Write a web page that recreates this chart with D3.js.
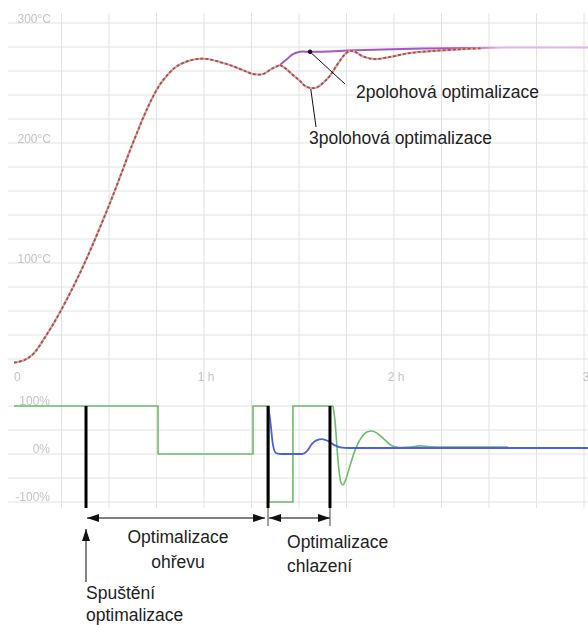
<!DOCTYPE html>
<html>
<head>
<meta charset="utf-8">
<script src="https://cdnjs.cloudflare.com/ajax/libs/d3/7.8.5/d3.min.js"></script>
<style>
  body { margin: 0; background: #fff; }
  .tick-label { font-family: "Liberation Sans", Arial, sans-serif; font-size: 12px; fill: #c4c4c4; }
  .note { font-family: "Liberation Sans", Arial, sans-serif; font-size: 17.5px; fill: #222; }
</style>
</head>
<body>
<div id="chart"></div>
<script>
// Time axis (hours)
var timeTicks = [0, 1, 2, 3];
var timeTickLabels = ["0", "1 h", "2 h", "3"];

// Temperature labels (°C)
var tempTicks = [100, 200, 300];
var tempTickLabels = ["100°C", "200°C", "300°C"];

// Output labels (%)
var outTicks = [100, 0, -100];
var outTickLabels = ["100%", "0%", "-100%"];

// Heating part shared by both runs
var heatTime = [0, 0.053, 0.1, 0.163, 0.242, 0.363, 0.505, 0.626, 0.705, 0.765, 0.815, 0.858, 0.911, 0.963, 1.016, 1.084, 1.153, 1.216, 1.258, 1.311, 1.358, 1.4];
var heatTemp = [17, 19, 24, 38, 59, 97, 150, 200, 230, 248, 258, 264, 268, 270, 270, 267.5, 264, 260, 257.5, 257.5, 262, 265];

// 2-position optimisation
var twoPosTime = [1.4, 1.437, 1.468, 1.505, 1.558, 1.663, 1.753, 1.942, 2.295, 2.6, 3.03];
var twoPosTemp = [265, 270, 274, 276, 276, 276.3, 277, 278, 279, 279.5, 279.5];

// 3-position optimisation
var threePosTime = [1.4, 1.426, 1.468, 1.505, 1.532, 1.558, 1.589, 1.626, 1.663, 1.7, 1.742, 1.768, 1.795, 1.832, 1.874, 1.911, 1.979, 2.084, 2.205, 2.363, 2.468];
var threePosTemp = [265, 262.5, 256.7, 251.7, 247.5, 246, 246, 250, 256, 265, 274, 276.7, 276, 272.5, 270.4, 270, 271.7, 275, 276.7, 278.3, 279];

// Heating output (green) - switching part then settling
var heatOutStepTime = [0, 0.758, 1.258, 1.342, 1.468, 1.679];
var heatOutStep = [100, 0, 100, -100, 100, 100];
var heatOutTailTime = [1.679, 1.689, 1.705, 1.721, 1.732, 1.747, 1.768, 1.795, 1.826, 1.858, 1.884, 1.916, 1.953, 1.989, 2.032, 2.084, 2.137, 2.189, 2.268, 2.4, 2.6];
var heatOutTail = [100, 71, -12, -60, -64, -52, -25, 8, 33, 46, 48, 42, 29, 17, 13.5, 14.5, 17, 15, 14.5, 14.5, 14.5];

// Cooling / second output (blue)
var coolOutTime = [1.337, 1.347, 1.363, 1.379, 1.411, 1.516, 1.542, 1.568, 1.595, 1.621, 1.653, 1.684, 1.716, 1.768, 2.2, 3.03];
var coolOut = [100, 75, 19, 2, 0, 0, 6, 21, 29, 31, 27, 19, 14, 12.5, 12.5, 12.5];

// Phase markers (hours): start, end of heating optimisation, end of cooling optimisation
var markerTimes = [0.379, 1.337, 1.663];

var svgWidth = 588, svgHeight = 625;

var svg = d3.select("#chart").append("svg")
    .attr("width", svgWidth)
    .attr("height", svgHeight);

var defs = svg.append("defs");
defs.append("filter").attr("id", "soft")
    .append("feGaussianBlur").attr("stdDeviation", 0.45);

// Scales
var xScale = d3.scaleLinear().domain([0, 3]).range([14, 584]);
var yTemp = d3.scaleLinear().domain([0, 300]).range([383, 23]);
var yOut = d3.scaleLinear().domain([-100, 100]).range([502, 406]);

// Grid
var grid = svg.append("g").attr("stroke", "#e2e2e2").attr("stroke-width", 1);
d3.range(0.25, 3.01, 0.25).forEach(function(t) {
    grid.append("line")
        .attr("x1", xScale(t)).attr("x2", xScale(t))
        .attr("y1", 13).attr("y2", 508);
});
d3.range(20, 301, 20).forEach(function(v) {
    grid.append("line")
        .attr("x1", 8).attr("x2", svgWidth)
        .attr("y1", yTemp(v)).attr("y2", yTemp(v));
});
d3.range(-100, 101, 50).forEach(function(v) {
    grid.append("line")
        .attr("x1", 8).attr("x2", svgWidth)
        .attr("y1", yOut(v)).attr("y2", yOut(v));
});

// Tick labels
var labels = svg.append("g").attr("filter", "url(#soft)");
tempTicks.forEach(function(v, i) {
    labels.append("text").attr("class", "tick-label")
        .attr("x", 51).attr("y", yTemp(v))
        .attr("text-anchor", "end")
        .text(tempTickLabels[i]);
});
outTicks.forEach(function(v, i) {
    labels.append("text").attr("class", "tick-label")
        .attr("x", 50).attr("y", yOut(v) - 1)
        .attr("text-anchor", "end")
        .text(outTickLabels[i]);
});
timeTicks.forEach(function(t, i) {
    labels.append("text").attr("class", "tick-label")
        .attr("x", i === 0 ? xScale(t) : xScale(t) + 2)
        .attr("y", 381)
        .attr("text-anchor", i === 0 ? "start" : "middle")
        .text(timeTickLabels[i]);
});

// Line generators
function zip(ts, vs) { return ts.map(function(t, i) { return [t, vs[i]]; }); }

var tempLine = d3.line()
    .x(d => xScale(d[0])).y(d => yTemp(d[1]))
    .curve(d3.curveCatmullRom.alpha(0.5));
var outLine = d3.line()
    .x(d => xScale(d[0])).y(d => yOut(d[1]))
    .curve(d3.curveMonotoneX);
var outStepLine = d3.line()
    .x(d => xScale(d[0])).y(d => yOut(d[1]))
    .curve(d3.curveStepAfter);

// Purple fades to pale pink once the 3-position curve has settled
var grad = defs.append("linearGradient").attr("id", "twoPosGrad")
    .attr("gradientUnits", "userSpaceOnUse")
    .attr("x1", xScale(2.4)).attr("x2", xScale(2.55))
    .attr("y1", 0).attr("y2", 0);
grad.append("stop").attr("offset", 0).attr("stop-color", "#a458c0");
grad.append("stop").attr("offset", 1).attr("stop-color", "#ebb2ea");

svg.append("path")
    .attr("d", tempLine(zip(twoPosTime, twoPosTemp)))
    .attr("fill", "none")
    .attr("stroke", "url(#twoPosGrad)")
    .attr("stroke-width", 2);

// Brownish red curves: pale base with darker dashes
[zip(heatTime, heatTemp), zip(threePosTime, threePosTemp)].forEach(function(pts) {
    svg.append("path")
        .attr("d", tempLine(pts))
        .attr("fill", "none")
        .attr("stroke", "#dba7a4")
        .attr("stroke-width", 2.2);
    svg.append("path")
        .attr("d", tempLine(pts))
        .attr("fill", "none")
        .attr("stroke", "#a9514d")
        .attr("stroke-width", 1.8)
        .attr("stroke-dasharray", "3,2");
});

// Output curves
svg.append("path")
    .attr("d", outStepLine(zip(heatOutStepTime, heatOutStep)))
    .attr("fill", "none")
    .attr("stroke", "#6cbd68")
    .attr("stroke-width", 1.6);
svg.append("path")
    .attr("d", outLine(zip(heatOutTailTime, heatOutTail)))
    .attr("fill", "none")
    .attr("stroke", "#6cbd68")
    .attr("stroke-width", 1.6);
svg.append("path")
    .attr("d", outLine(zip(coolOutTime, coolOut)))
    .attr("fill", "none")
    .attr("stroke", "#4b5ee6")
    .attr("stroke-width", 1.8);

// Phase markers
var mx = markerTimes.map(xScale);
svg.selectAll(".marker")
    .data(mx)
    .enter().append("line")
    .attr("class", "marker")
    .attr("x1", d => d).attr("x2", d => d)
    .attr("y1", yOut(100)).attr("y2", 508)
    .attr("stroke", "#000")
    .attr("stroke-width", 3);
svg.selectAll(".marker-ext")
    .data(mx.slice(1))
    .enter().append("line")
    .attr("x1", d => d).attr("x2", d => d)
    .attr("y1", 508).attr("y2", 526)
    .attr("stroke", "#444")
    .attr("stroke-width", 1);

// Arrow heads
defs.append("marker").attr("id", "head")
    .attr("viewBox", "0 0 12 8").attr("refX", 12).attr("refY", 4)
    .attr("markerWidth", 12).attr("markerHeight", 8)
    .attr("markerUnits", "userSpaceOnUse")
    .attr("orient", "auto-start-reverse")
    .append("path").attr("d", "M0,0L12,4L0,8Z").attr("fill", "#111");

var arrowY = 518;
svg.append("line")
    .attr("x1", mx[0] + 1).attr("x2", mx[1] - 3)
    .attr("y1", arrowY).attr("y2", arrowY)
    .attr("stroke", "#555").attr("stroke-width", 1.5)
    .attr("marker-start", "url(#head)").attr("marker-end", "url(#head)");
svg.append("line")
    .attr("x1", mx[1] + 1).attr("x2", mx[2])
    .attr("y1", arrowY).attr("y2", arrowY)
    .attr("stroke", "#555").attr("stroke-width", 1.5)
    .attr("marker-start", "url(#head)").attr("marker-end", "url(#head)");
svg.append("line")
    .attr("x1", mx[0]).attr("x2", mx[0])
    .attr("y1", 582).attr("y2", 529)
    .attr("stroke", "#333").attr("stroke-width", 1.2)
    .attr("marker-end", "url(#head)");

// Leader lines for the two curves
var leaders = svg.append("g").attr("stroke", "#111").attr("stroke-width", 1);
leaders.append("line")
    .attr("x1", xScale(1.558)).attr("y1", yTemp(276))
    .attr("x2", 345).attr("y2", 84);
leaders.append("circle")
    .attr("cx", xScale(1.558)).attr("cy", yTemp(276)).attr("r", 1.8)
    .attr("fill", "#111");
leaders.append("line")
    .attr("x1", xScale(1.562)).attr("y1", yTemp(245))
    .attr("x2", 316).attr("y2", 127);

// Notes
function note(x, y, str, anchor) {
    svg.append("text").attr("class", "note")
        .attr("x", x).attr("y", y)
        .attr("text-anchor", anchor || "start")
        .text(str);
}
note(356, 98, "2polohová optimalizace");
note(309, 144, "3polohová optimalizace");
note((mx[0] + mx[1]) / 2 + 1, 543, "Optimalizace", "middle");
note((mx[0] + mx[1]) / 2 + 1, 568, "ohřevu", "middle");
note(mx[1] + 19, 548, "Optimalizace");
note(mx[1] + 19, 572, "chlazení");
note(mx[0], 599, "Spuštění");
note(mx[0], 621, "optimalizace");
</script>
</body>
</html>
